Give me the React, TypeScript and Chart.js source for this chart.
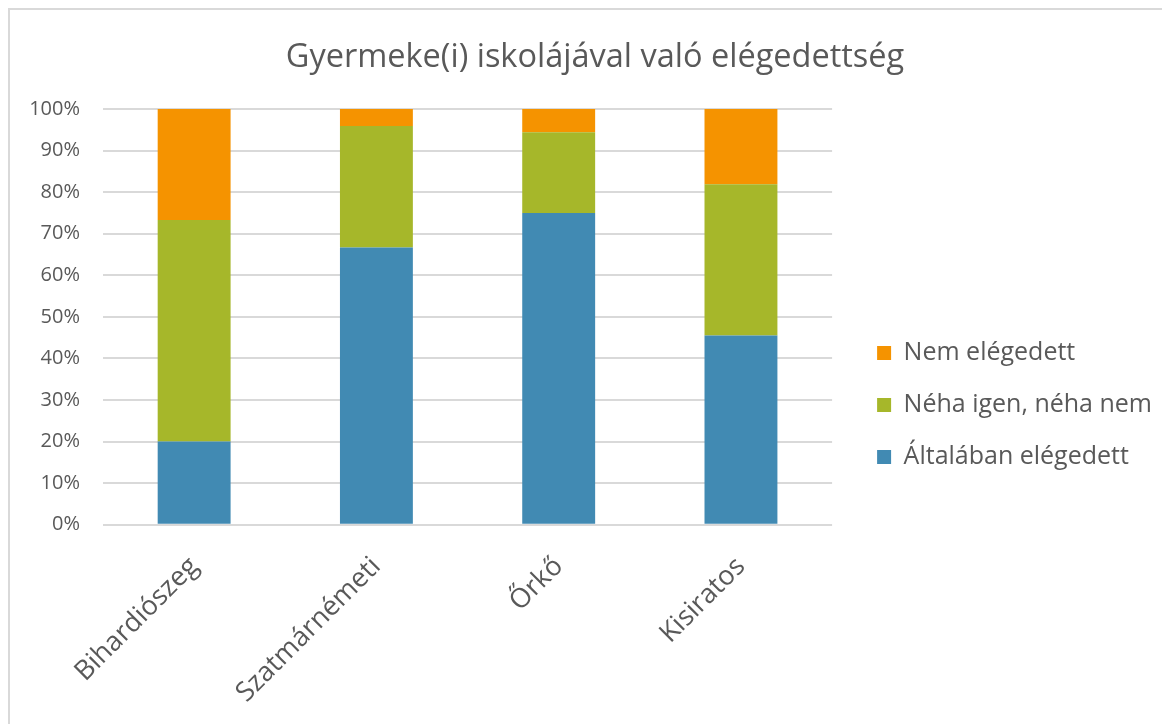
import React, { useEffect, useRef } from "react";
import { Chart, registerables } from "chart.js";

Chart.register(...registerables);

const categories = ["Bihardiószeg", "Szatmárnémeti", "Őrkő", "Kisiratos"];
const altalabanElegedett = [20.0, 66.7, 75.0, 45.5];
const nehaIgenNehaNem = [53.3, 29.2, 19.4, 36.4];
const nemElegedett = [26.7, 4.2, 5.6, 18.2];
const seriesNames = ["Általában elégedett", "Néha igen, néha nem", "Nem elégedett"];
const seriesColors = ["#418AB3", "#A6B72A", "#F59300"];
const yTicks = [0, 10, 20, 30, 40, 50, 60, 70, 80, 90, 100];
const titleText = "Gyermeke(i) iskolájával való elégedettség";

const FONT = "'Open Sans', sans-serif";
const TEXT = "#595959";

export default function App() {
  const ref = useRef<HTMLCanvasElement | null>(null);

  useEffect(() => {
    document.documentElement.style.overflow = "hidden";
    if (!ref.current) return;
    const values = [altalabanElegedett, nehaIgenNehaNem, nemElegedett];
    const chart = new Chart(ref.current, {
      type: "bar",
      data: {
        labels: categories,
        datasets: values.map((v, i) => ({
          label: seriesNames[i],
          data: v,
          backgroundColor: seriesColors[i],
          borderWidth: 0,
          barPercentage: 0.4,
          categoryPercentage: 1,
        })),
      },
      options: {
        animation: false,
        responsive: true,
        maintainAspectRatio: false,
        layout: { padding: { left: 18, right: 18, top: 0, bottom: -3 } },
        plugins: {
          tooltip: { enabled: false },
          title: {
            display: true,
            text: titleText,
            color: TEXT,
            font: { family: FONT, size: 32.5, weight: "normal" },
            padding: { top: 28, bottom: 32 },
          },
          legend: {
            display: true,
            position: "right",
            align: "center",
            reverse: true,
            maxWidth: 312,
            title: { display: true, text: " ", font: { size: 10 }, padding: { top: 0, bottom: 61 } },
            labels: {
              boxWidth: 14,
              boxHeight: 14,
              padding: 27,
              color: TEXT,
              font: { family: FONT, size: 25 },
            },
          },
        },
        scales: {
          x: {
            stacked: true,
            grid: { display: false },
            border: { display: false },
            ticks: {
              color: TEXT,
              font: { family: FONT, size: 27 },
              maxRotation: 45,
              minRotation: 45,
              padding: 18,
            },
          },
          y: {
            stacked: true,
            min: 0,
            max: 100,
            afterBuildTicks: (scale: any) => {
              scale.ticks = yTicks.map((v) => ({ value: v }));
            },
            afterFit: (scale: any) => {
              scale.width = 75;
            },
            grid: { color: "#D9D9D9", lineWidth: 2, drawTicks: false },
            border: { display: false },
            ticks: {
              color: TEXT,
              font: { family: FONT, size: 20 },
              padding: 23,
              callback: (v: any) => v + "%",
            },
          },
          pad: {
            position: "right",
            display: true,
            grid: { display: false },
            border: { display: false },
            ticks: { display: false },
            afterFit: (scale: any) => {
              scale.width = 18;
            },
          },
        },
      },
    });
    return () => chart.destroy();
  }, []);

  return (
    <div
      style={{
        width: 1170,
        height: 724,
        borderTop: "2px solid #D9D9D9",
        borderLeft: "2px solid #D9D9D9",
        background: "#fff",
      }}
    >
      <div style={{ position: "relative", width: 1170, height: 714 }}>
        <canvas ref={ref} />
      </div>
    </div>
  );
}
